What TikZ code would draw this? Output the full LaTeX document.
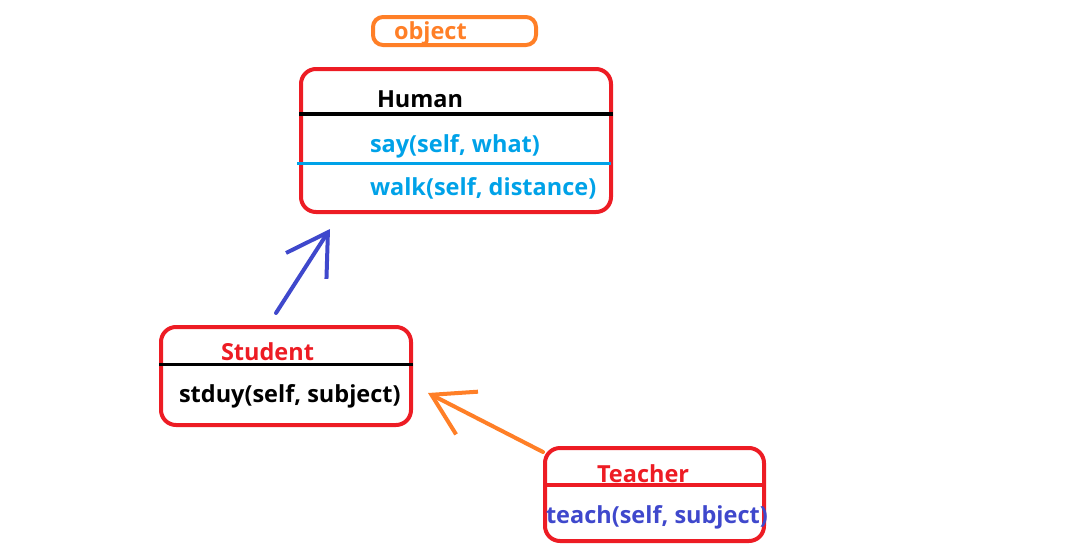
\documentclass[tikz,border=0pt]{standalone}
\usepackage{fontspec}
\setmainfont{Open Sans}
\usetikzlibrary{arrows.meta}
\definecolor{paintred}{HTML}{ED1C24}
\definecolor{paintorange}{HTML}{FF7F27}
\definecolor{paintcyan}{HTML}{00A2E8}
\definecolor{paintblue}{HTML}{3F48CC}
\begin{document}
\begin{tikzpicture}[x=1pt, y=-1pt, line width=4pt,
    cls/.style = {draw=paintred, rounded corners=15pt, minimum width=#1},
    label/.style = {anchor=west, inner sep=0pt, font=\bfseries\fontsize{23.5}{26}\selectfont},
    inherit/.style = {-{Straight Barb[length=40pt, width=48pt]}, line cap=round}]
        \useasboundingbox (0,0) rectangle (1068,544);
        \clip (0,0) rectangle (1068,544);
        % boxes
        \node[draw=paintorange, rounded corners=10pt, minimum width=163pt, minimum height=28pt] (object) at (454.5,31) {};
        \node[cls=310pt, minimum height=143pt] (human) at (456,140.5) {};
        \node[cls=250pt, minimum height=98pt] (student) at (286,376) {};
        \node[cls=219pt, minimum height=93pt] (teacher) at (654.5,494.5) {};
        % separators
        \draw (human.west |- 0,114) -- (human.east |- 0,114);
        \draw[paintcyan, line width=3pt] (297,163) -- (611,163);
        \draw[line width=3pt] (student.west |- 0,364) -- (student.east |- 0,364);
        \draw[paintred] (teacher.west |- 0,485) -- (teacher.east |- 0,485);
        % texts
        \node[label, text=paintorange] (objname) at (392,33) {object};
        \node[label] (humanname) at (375,99) {Human};
        \node[label, text=paintcyan] (humansay) at (368,146) {say(self, what)};
        \node[label, text=paintcyan] (humanwalk) at (368,188) {walk(self, distance)};
        \node[label, text=paintred] (studentname) at (219,352) {Student};
        \node[label] (studentstudy) at (177,396) {stduy(self, subject)};
        \node[label, text=paintred] (teachername) at (595,474) {Teacher};
        \node[label, text=paintblue] (teacherteach) at (544,517) {teach(self, subject)};
        % arrows
        \coordinate (studenttail) at (276,313);
        \coordinate (humantip) at (330,229);
        \coordinate (teachertail) at (543,452);
        \coordinate (studenttip) at (428,393);
        \draw[inherit, paintblue] (studenttail) -- (humantip);
        \draw[inherit, paintorange] (teachertail) -- (studenttip);
\end{tikzpicture}
\end{document}
